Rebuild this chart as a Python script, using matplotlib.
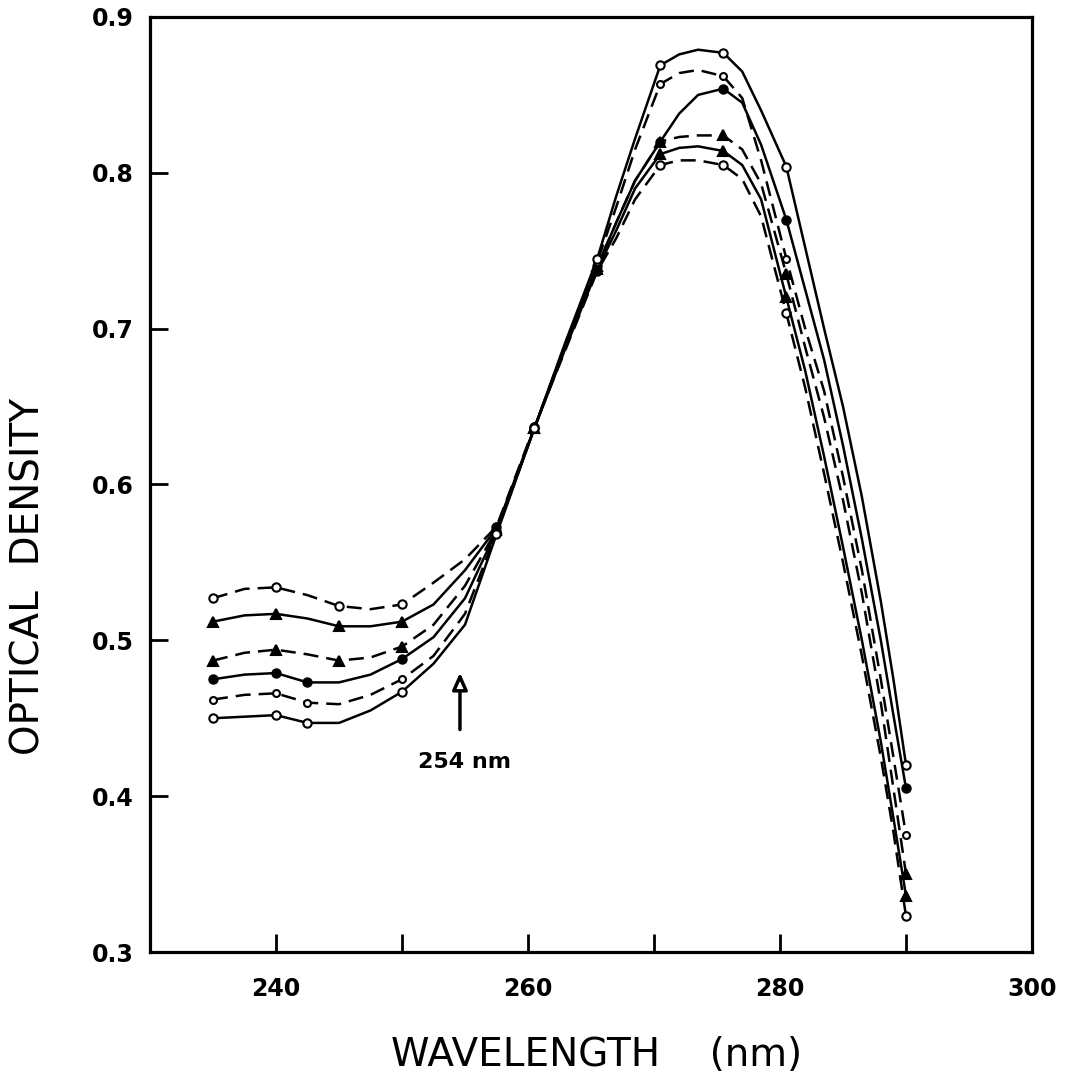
import matplotlib
matplotlib.use("Agg")
import matplotlib.pyplot as plt
from matplotlib.ticker import FixedLocator, NullFormatter

# wavelength grid (nm) the curves were traced on
WAVELENGTH = [235, 237.5, 240, 242.5, 245, 247.5, 250, 252.5, 255, 257.5,
              260.5, 263, 265.5, 267, 268.5, 270.5, 272, 273.5, 275.5, 277,
              278.5, 280.5, 282, 283.5, 285, 286.5, 288, 289, 290]

# optical density, curves listed top to bottom at the short-wavelength end
OD_1 = [0.527, 0.533, 0.534, 0.529, 0.522, 0.520, 0.523, 0.537, 0.552, 0.573,
        0.637, 0.687, 0.737, 0.758, 0.783, 0.805, 0.808, 0.808, 0.805, 0.796,
        0.772, 0.710, 0.662, 0.607, 0.550, 0.490, 0.425, 0.377, 0.323]
OD_2 = [0.512, 0.516, 0.517, 0.514, 0.509, 0.509, 0.512, 0.523, 0.545, 0.572,
        0.636, 0.688, 0.738, 0.763, 0.790, 0.812, 0.816, 0.817, 0.814, 0.805,
        0.783, 0.720, 0.673, 0.618, 0.560, 0.500, 0.435, 0.386, 0.336]
OD_3 = [0.487, 0.492, 0.494, 0.491, 0.487, 0.489, 0.496, 0.510, 0.535, 0.571,
        0.636, 0.689, 0.740, 0.768, 0.795, 0.820, 0.823, 0.824, 0.824, 0.815,
        0.793, 0.735, 0.688, 0.643, 0.590, 0.530, 0.460, 0.405, 0.350]
OD_4 = [0.475, 0.478, 0.479, 0.473, 0.473, 0.478, 0.488, 0.502, 0.527, 0.570,
        0.636, 0.690, 0.740, 0.768, 0.795, 0.820, 0.838, 0.850, 0.854, 0.845,
        0.818, 0.770, 0.725, 0.680, 0.625, 0.565, 0.500, 0.452, 0.405]
OD_5 = [0.462, 0.465, 0.466, 0.460, 0.459, 0.465, 0.475, 0.490, 0.517, 0.569,
        0.636, 0.691, 0.743, 0.778, 0.815, 0.857, 0.864, 0.866, 0.862, 0.848,
        0.808, 0.745, 0.700, 0.660, 0.605, 0.545, 0.475, 0.425, 0.375]
OD_6 = [0.450, 0.451, 0.452, 0.447, 0.447, 0.455, 0.467, 0.485, 0.510, 0.568,
        0.636, 0.692, 0.745, 0.785, 0.822, 0.869, 0.876, 0.879, 0.877, 0.865,
        0.840, 0.804, 0.752, 0.700, 0.650, 0.592, 0.525, 0.475, 0.420]

# which grid points carry a plotted symbol
MARKS_UPPER = [0, 2, 4, 6, 9, 10, 12, 15, 18, 21, 28]
MARKS_LOWER = [0, 2, 3, 6, 9, 10, 12, 15, 18, 21, 28]

ARROW_NM = 254.6
ARROW_LABEL = "254 nm"

XLABEL = "WAVELENGTH    (nm)"
YLABEL = "OPTICAL  DENSITY"

plt.rcParams["font.family"] = ["DejaVu Sans"]

fig = plt.figure(figsize=(10.86, 10.89), dpi=100)
ax = fig.add_axes([0.1381, 0.1258, 0.8122, 0.8586])

# (data, linestyle, marker, facecolor, size, which marks)
styles = [
    (OD_1, "dashed", "o", "white", 6, MARKS_UPPER),
    (OD_2, "solid", "^", "black", 7, MARKS_UPPER),
    (OD_3, "dashed", "^", "black", 7, MARKS_UPPER),
    (OD_4, "solid", "o", "black", 6, MARKS_LOWER),
    (OD_5, "dashed", "o", "white", 5, MARKS_LOWER),
    (OD_6, "solid", "o", "white", 6, MARKS_LOWER),
]

for od, ls, mk, fc, ms, marks in styles:
    (line,) = ax.plot(
        WAVELENGTH, od, color="black", lw=1.8, marker=mk, markevery=marks,
        mfc=fc, mec="black", ms=ms, mew=1.5, zorder=3,
    )
    if ls == "dashed":
        line.set_dashes((6, 3.2))

ax.annotate(
    "", xy=(ARROW_NM, 0.481), xytext=(ARROW_NM, 0.441),
    arrowprops=dict(arrowstyle="-|>,head_length=1.0,head_width=0.45",
                    fc="white", ec="black", lw=2.5),
)
ax.text(ARROW_NM + 0.4, 0.422, ARROW_LABEL, ha="center", va="center",
        fontsize=16, fontweight="bold")

ax.set_xlim(230, 300)
ax.set_ylim(0.3, 0.9)
ax.xaxis.set_major_locator(FixedLocator([240, 260, 280, 300]))
ax.xaxis.set_minor_locator(FixedLocator([250, 270, 290]))
ax.xaxis.set_minor_formatter(NullFormatter())
ax.set_xticklabels(["240", "260", "280", "300"])
ax.yaxis.set_major_locator(FixedLocator([0.3, 0.4, 0.5, 0.6, 0.7, 0.8, 0.9]))
ax.set_yticklabels(["0.3", "0.4", "0.5", "0.6", "0.7", "0.8", "0.9"])

ax.tick_params(which="both", direction="in", length=13, width=2,
               top=False, right=False)
ax.tick_params(axis="x", which="major", pad=18, labelsize=17)
ax.tick_params(axis="y", which="major", pad=12, labelsize=17)
for lab in ax.get_xticklabels() + ax.get_yticklabels():
    lab.set_fontweight("bold")

for sp in ax.spines.values():
    sp.set_linewidth(2.3)

fig.text(0.5497, 0.0312, XLABEL, ha="center", va="center", fontsize=28)
fig.text(0.0267, 0.471, YLABEL, ha="center", va="center", fontsize=28,
         rotation=90)

fig.savefig("out.png", dpi=100, facecolor="white")
